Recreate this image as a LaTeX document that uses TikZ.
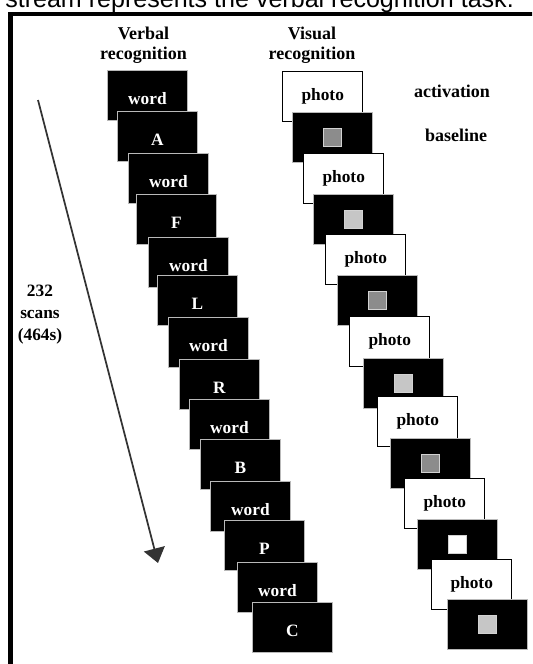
\documentclass[tikz,border=0pt]{standalone}
\usepackage{fontspec}
\setmainfont{Liberation Serif}
\newfontfamily\capfont{Liberation Sans}
\usetikzlibrary{arrows.meta}
\definecolor{midgray}{HTML}{8C8C8C}
\definecolor{lightgray}{HTML}{C6C6C6}
\begin{document}
\begin{tikzpicture}[x=0.75pt,y=-0.75pt,
  lbl/.style={font=\fontsize{13.5}{15}\selectfont\bfseries, align=center, inner sep=0pt},
  bcard/.style={draw=gray!55, line width=0.7pt, fill=black, minimum width=60pt, minimum height=37.5pt, anchor=north west, inner sep=0pt},
  wcard/.style={draw=black, line width=1.1pt, fill=white, minimum width=60pt, minimum height=37.5pt, anchor=north west, inner sep=0pt},
  wtxt/.style={font=\fontsize{13}{14}\selectfont\bfseries, text=white, inner sep=0pt},
  btxt/.style={font=\fontsize{13}{14}\selectfont\bfseries, text=black, inner sep=0pt},
  sq/.style={draw=gray!35, line width=0.5pt, minimum size=13.5pt, inner sep=0pt},
  timearrow/.style={draw=black!80, line width=1.3pt, -{Triangle[length=11pt,width=16pt]}}
]
\useasboundingbox (0,0) rectangle (532,664);
\clip (0,0) rectangle (532,664);
\fill[white] (0,0) rectangle (532,664);
% caption fragment (cut at the top, as in the reference)
\node[anchor=base west, inner sep=0pt, font=\capfont\fontsize{18.8}{22}\selectfont] (cap) at (5,7) {stream represents the verbal recognition task.};
% frame
\draw[line width=3.6pt] (10.5,680) -- (10.5,14) -- (560,14);
% headings
\node[lbl] (hverb) at (143.5,45) {Verbal\\recognition};
\node[lbl] (hvis) at (312,45) {Visual\\recognition};
\node[lbl] (act) at (452,91) {activation};
\node[lbl] (base) at (456,135) {baseline};
\node[lbl, font=\fontsize{13}{16.5}\selectfont\bfseries] (scans) at (40,315) {232\\scans\\(464s)};
% arrow
\coordinate (as) at (38,100);
\coordinate (ae) at (158,563);
\draw[timearrow] (as) -- (ae);
% verbal stream
\node[bcard] (v1) at (107,70) {};  \node[wtxt] (t1) at ([yshift=-2.5pt]v1.center) {word};
\node[bcard] (v2) at (117,111) {}; \node[wtxt] (t2) at ([yshift=-2.5pt]v2.center) {A};
\node[bcard] (v3) at (128,153) {}; \node[wtxt] (t3) at ([yshift=-2.5pt]v3.center) {word};
\node[bcard] (v4) at (136,194) {}; \node[wtxt] (t4) at ([yshift=-2.5pt]v4.center) {F};
\node[bcard] (v5) at (148,237) {}; \node[wtxt] (t5) at ([yshift=-2.5pt]v5.center) {word};
\node[bcard] (v6) at (157,275) {}; \node[wtxt] (t6) at ([yshift=-2.5pt]v6.center) {L};
\node[bcard] (v7) at (168,317) {}; \node[wtxt] (t7) at ([yshift=-2.5pt]v7.center) {word};
\node[bcard] (v8) at (179,359) {}; \node[wtxt] (t8) at ([yshift=-2.5pt]v8.center) {R};
\node[bcard] (v9) at (189,399) {}; \node[wtxt] (t9) at ([yshift=-2.5pt]v9.center) {word};
\node[bcard] (v10) at (200,439) {}; \node[wtxt] (t10) at ([yshift=-2.5pt]v10.center) {B};
\node[bcard] (v11) at (210,481) {}; \node[wtxt] (t11) at ([yshift=-2.5pt]v11.center) {word};
\node[bcard] (v12) at (224,520) {}; \node[wtxt] (t12) at ([yshift=-2.5pt]v12.center) {P};
\node[bcard] (v13) at (237,562) {}; \node[wtxt] (t13) at ([yshift=-2.5pt]v13.center) {word};
\node[bcard] (v14) at (252,602) {}; \node[wtxt] (t14) at ([yshift=-2.5pt]v14.center) {C};
% visual stream
\node[wcard] (p1) at (282,71) {};  \node[btxt] (q1) at (p1.center) {photo};
\node[bcard] (p2) at (292,112) {}; \node[sq, fill=midgray] (s2) at (p2.center) {};
\node[wcard] (p3) at (303,153) {}; \node[btxt] (q3) at (p3.center) {photo};
\node[bcard] (p4) at (313,194) {}; \node[sq, fill=lightgray] (s4) at (p4.center) {};
\node[wcard] (p5) at (325,234) {}; \node[btxt] (q5) at (p5.center) {photo};
\node[bcard] (p6) at (337,275) {}; \node[sq, fill=midgray] (s6) at (p6.center) {};
\node[wcard] (p7) at (349,316) {}; \node[btxt] (q7) at (p7.center) {photo};
\node[bcard] (p8) at (363,358) {}; \node[sq, fill=lightgray] (s8) at (p8.center) {};
\node[wcard] (p9) at (377,396) {}; \node[btxt] (q9) at (p9.center) {photo};
\node[bcard] (p10) at (390,438) {}; \node[sq, fill=midgray] (s10) at (p10.center) {};
\node[wcard] (p11) at (404,478) {}; \node[btxt] (q11) at (p11.center) {photo};
\node[bcard] (p12) at (417,519) {}; \node[sq, fill=white] (s12) at (p12.center) {};
\node[wcard] (p13) at (431,559) {}; \node[btxt] (q13) at (p13.center) {photo};
\node[bcard] (p14) at (447,599) {}; \node[sq, fill=lightgray] (s14) at (p14.center) {};
\end{tikzpicture}
\end{document}
